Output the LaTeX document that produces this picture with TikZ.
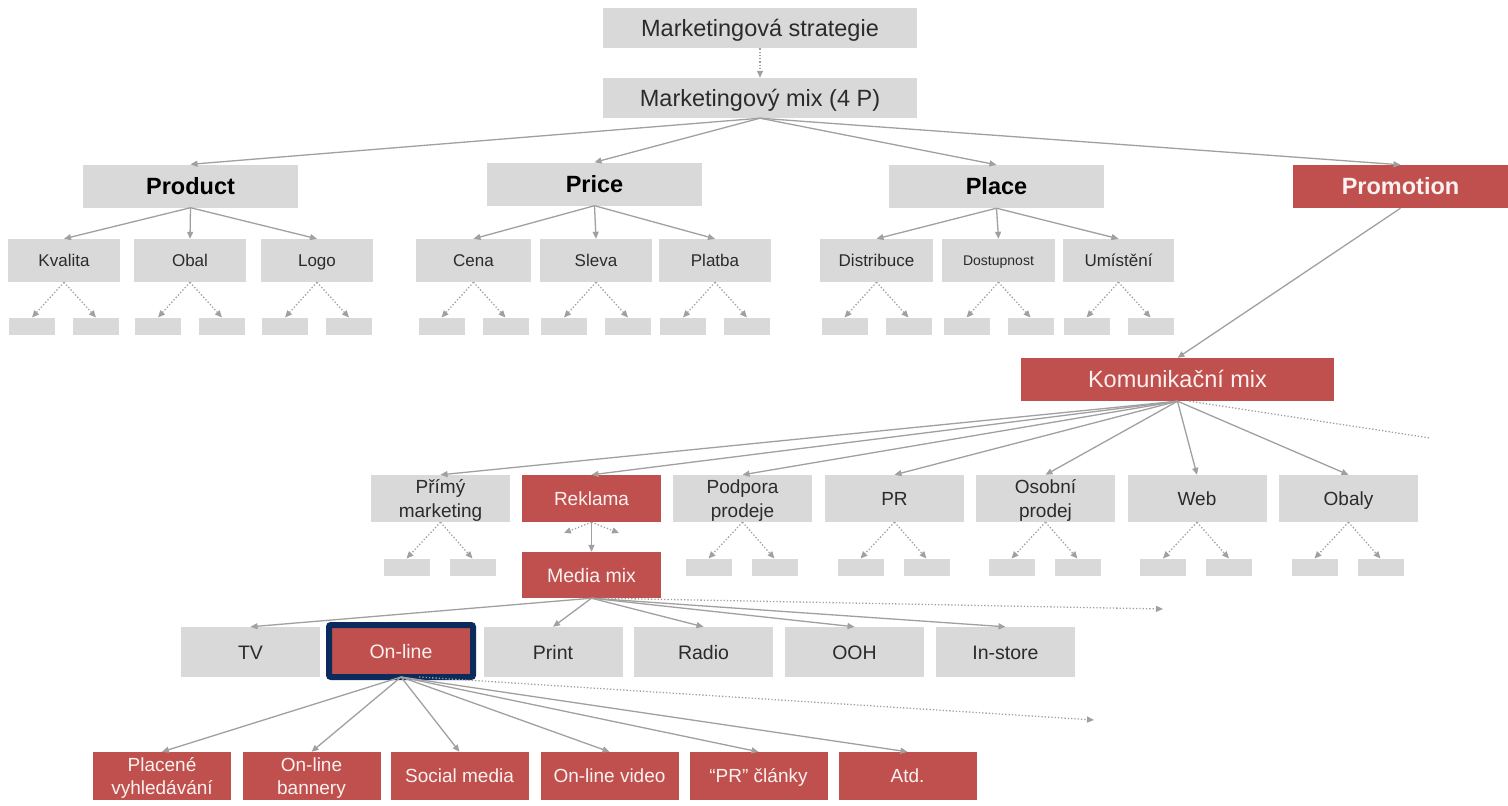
\documentclass[tikz,border=0pt]{standalone}
\usepackage{fontspec}
\setmainfont{Liberation Sans}
\usetikzlibrary{arrows.meta,calc}
\definecolor{boxgray}{HTML}{D9D9D9}
\definecolor{boxred}{HTML}{C0504D}
\definecolor{txtgray}{HTML}{2B2B2B}
\definecolor{txtwhite}{HTML}{FBF1F0}
\definecolor{linegray}{HTML}{A0A0A0}
\definecolor{navyb}{HTML}{0A2B5C}
\newcommand{\fs}[2]{\fontsize{#1}{#2}\selectfont}
\tikzset{
  gbox/.style={fill=boxgray, text=txtgray, inner sep=0pt, align=center},
  rbox/.style={fill=boxred, text=txtwhite, inner sep=0pt, align=center},
  one/.style={text height=#1, text depth=0pt},
  sbox/.style={fill=boxgray, minimum width=46pt, minimum height=17pt, inner sep=0pt},
  conn/.style={draw=linegray, line width=1.3pt, -{Triangle[length=7pt,width=6pt]}},
  dconn/.style={draw=linegray, line width=1.3pt, dotted, -{Triangle[length=7pt,width=6pt]}},
  dline/.style={draw=linegray, line width=1.3pt, dotted},
}
\begin{document}
\begin{tikzpicture}[x=1pt,y=-1pt]
\useasboundingbox (0,0) rectangle (1508,806);
% top
\node[gbox, one=16.8pt, minimum width=314pt, minimum height=40pt, font=\fs{23.5}{28}] (strat) at (760,28) {Marketingová strategie};
\node[gbox, one=16.8pt, minimum width=314pt, minimum height=40pt, font=\fs{23.5}{28}] (mix) at (760,98) {Marketingový mix (4 P)};
\draw[dconn] (strat.south) -- (mix.north);
% 4P
\tikzset{pbox/.style={one=16.8pt, minimum width=215pt, minimum height=43pt, font=\fs{23.5}{28}\bfseries}}
\node[gbox,pbox,text=black] (product) at (190.5,186) {Product};
\node[gbox,pbox,text=black] (price) at (594.5,184) {Price};
\node[gbox,pbox,text=black] (place) at (996.5,186.5) {Place};
\node[rbox,pbox] (promo) at (1400.5,186.5) {Promotion};
\foreach \n in {product,price,place,promo} \draw[conn] (mix.south) -- (\n.north);
% level 3
\tikzset{tbox/.style={gbox, one=12.2pt, minimum width=112pt, minimum height=43pt, font=\fs{17}{20}}}
\node[tbox] (kvalita) at (64,260.5) {Kvalita};
\node[tbox] (obal) at (190,260.5) {Obal};
\node[tbox] (logo) at (317,260.5) {Logo};
\node[tbox, minimum width=115pt] (cena) at (473.5,260.5) {Cena};
\node[tbox] (sleva) at (596,260.5) {Sleva};
\node[tbox] (platba) at (715,260.5) {Platba};
\node[tbox, minimum width=113pt] (distr) at (876.5,260.5) {Distribuce};
\node[tbox, minimum width=113pt, font=\fs{14}{17}, one=10pt] (dostup) at (998.5,260.5) {Dostupnost};
\node[tbox, minimum width=111pt] (umist) at (1118.5,260.5) {Umístění};
\foreach \n in {kvalita,obal,logo} \draw[conn] (product.south) -- (\n.north);
\foreach \n in {cena,sleva,platba} \draw[conn] (price.south) -- (\n.north);
\foreach \n in {distr,dostup,umist} \draw[conn] (place.south) -- (\n.north);
% small boxes level 4
\foreach \n in {kvalita,obal,logo,cena,sleva,platba,distr,dostup,umist}{
  \node[sbox] (\n L) at ($(\n.south)+(-32,44)$) {};
  \node[sbox] (\n R) at ($(\n.south)+(32,44)$) {};
  \draw[dconn] (\n.south) -- (\n L.north);
  \draw[dconn] (\n.south) -- (\n R.north);
}
% komunikacni mix
\node[rbox, one=16.8pt, minimum width=313pt, minimum height=43pt, font=\fs{23.5}{28}] (kom) at (1177.5,379.5) {Komunikační mix};
\draw[conn] (promo.south) -- (kom.north);
\coordinate (komend) at (1430,438);
\draw[dline] ([xshift=12pt]kom.south) -- (komend);
\tikzset{kbox/.style={minimum width=139pt, minimum height=47pt, font=\fs{19}{24}},
         kone/.style={kbox, one=13.6pt}, ktwo/.style={kbox, one=37.6pt}}
\node[gbox,ktwo] (primy) at (440.5,498.5) {Přímý\\marketing};
\node[rbox,kone] (reklama) at (591.5,498.5) {Reklama};
\node[gbox,ktwo] (podpora) at (742.5,498.5) {Podpora\\prodeje};
\node[gbox,kone] (pr) at (894.5,498.5) {PR};
\node[gbox,ktwo] (osobni) at (1045.5,498.5) {Osobní\\prodej};
\node[gbox,kone] (web) at (1197,498.5) {Web};
\node[gbox,kone] (obaly) at (1348.5,498.5) {Obaly};
\foreach \n in {primy,reklama,podpora,pr,osobni,web,obaly} \draw[conn] (kom.south) -- (\n.north);
\foreach \n in {primy,podpora,pr,osobni,web,obaly}{
  \node[sbox] (\n L) at ($(\n.south)+(-34,45)$) {};
  \node[sbox] (\n R) at ($(\n.south)+(32,45)$) {};
  \draw[dconn] (\n.south) -- (\n L.north);
  \draw[dconn] (\n.south) -- (\n R.north);
}
\coordinate (rekL) at (564,533);
\coordinate (rekR) at (619,533);
\draw[dconn] (reklama.south) -- (rekL);
\draw[dconn] (reklama.south) -- (rekR);
% media mix
\node[rbox, one=14pt, minimum width=139pt, minimum height=46pt, font=\fs{19.5}{23}] (media) at (591.5,575) {Media mix};
\draw[conn] (reklama.south) -- (media.north);
\coordinate (mediaend) at (1163,609);
\draw[dconn] ([xshift=10pt]media.south) -- (mediaend);
\tikzset{mbox/.style={one=14pt, minimum width=139pt, minimum height=50pt, font=\fs{19.5}{23}}}
\node[gbox,mbox] (tv) at (250.5,652) {TV};
\node[rbox, one=14pt, minimum width=144pt, minimum height=52pt, font=\fs{19.5}{23}, draw=navyb, line width=6pt, rounded corners=2pt] (online) at (401,651) {On-line};
\node[gbox,mbox] (print) at (553,652) {Print};
\node[gbox,mbox] (radio) at (703.5,652) {Radio};
\node[gbox,mbox] (ooh) at (854.5,652) {OOH};
\node[gbox,mbox] (instore) at (1005.5,652) {In-store};
\foreach \n in {tv,print,radio,ooh,instore} \draw[conn] (media.south) -- (\n.north);
% bottom
\coordinate (onlineend) at (1094,720);
\draw[dconn] ([xshift=18pt,yshift=3pt]online.south) -- (onlineend);
\tikzset{bbox/.style={rbox, minimum width=138pt, minimum height=48pt, font=\fs{19}{23}},
         bone/.style={bbox, one=13.6pt}, btwo/.style={bbox, one=36.6pt}}
\node[btwo] (placene) at (162,776) {Placené\\vyhledávání};
\node[btwo] (bannery) at (311.5,776) {On-line\\bannery};
\node[bone] (social) at (459.5,776) {Social media};
\node[bone] (video) at (609.5,776) {On-line video};
\node[bone] (clanky) at (758.5,776) {“PR” články};
\node[bone] (atd) at (907.5,776) {Atd.};
\foreach \n in {placene,bannery,social,video,clanky,atd} \draw[conn] ([yshift=3pt]online.south) -- (\n.north);
\end{tikzpicture}
\end{document}
